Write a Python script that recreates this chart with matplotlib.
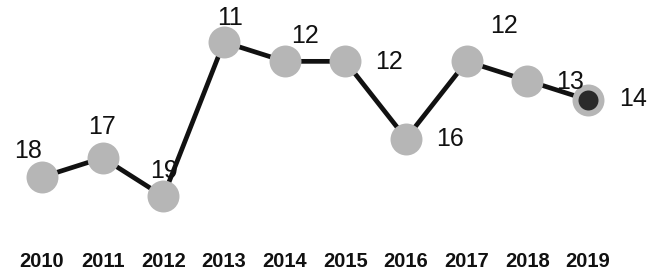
import matplotlib
matplotlib.use("Agg")
from matplotlib import pyplot as plt

plt.rcParams['font.family'] = ['Liberation Sans', 'DejaVu Sans']

# data
years = ['2010', '2011', '2012', '2013', '2014', '2015', '2016', '2017', '2018', '2019']
ranks = [18, 17, 19, 11, 12, 12, 16, 12, 13, 14]

# label offsets from the point, in pixels (dx, dy)
label_offsets = [(-14, 26), (-1, 31), (1, 25), (6, 24), (20, 25),
                 (44, -1), (44, 0), (37, 35), (43, -1), (45, 1)]

fig = plt.figure(figsize=(6.6, 2.73), dpi=100)
ax = fig.add_axes([0.0177, 0.1209, 0.9192, 0.8791])

x = list(range(len(years)))

ax.plot(x, ranks, color='#111111', lw=3.4, solid_capstyle='round', zorder=1)
ax.plot(x[:-1], ranks[:-1], 'o', ms=23, mfc='#b6b6b6', mec='none', zorder=2)
# last year highlighted: dark centre, grey ring
ax.plot(x[-1:], ranks[-1:], 'o', ms=18.7, mfc='#2a2a2a', mec='#b6b6b6', mew=4.3, zorder=3)

for xi, r, (dx, dy) in zip(x, ranks, label_offsets):
    ax.annotate(str(r), (xi, r), xytext=(dx, dy), textcoords='offset pixels',
                ha='center', va='center', fontsize=18, color='#111111', zorder=4)

ax.set_xlim(-0.5, 9.5)
ax.set_ylim(21.26, 8.82)
ax.set_xticks(x)
ax.set_xticklabels(years, fontsize=14.5, fontweight='bold', color='#111111')
ax.set_yticks([])
ax.tick_params(axis='x', length=0, pad=8.5)
for s in ax.spines.values():
    s.set_visible(False)

fig.savefig('out.png', dpi=100, facecolor='white')
